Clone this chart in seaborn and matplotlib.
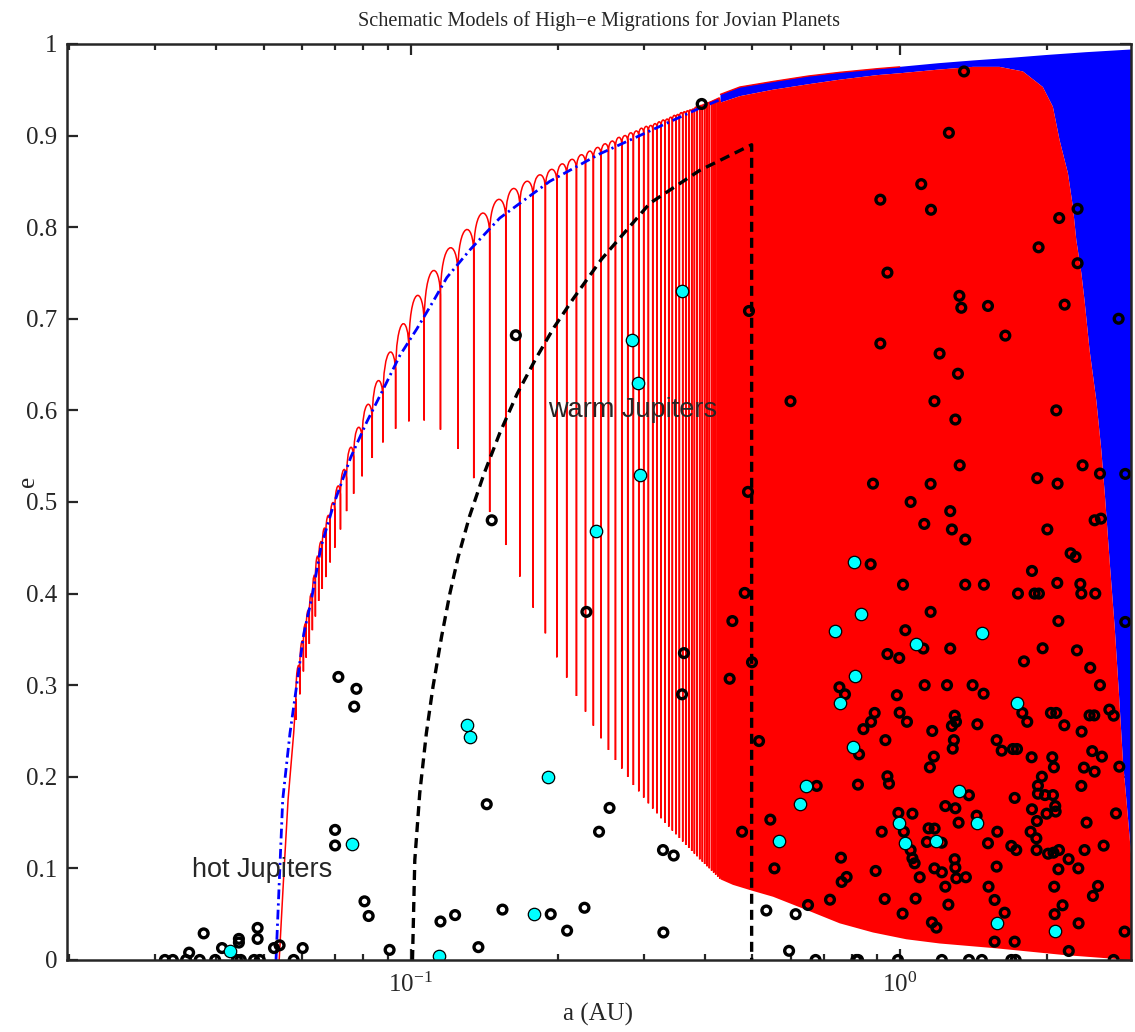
import numpy as np
import matplotlib
matplotlib.use('Agg')
import matplotlib.pyplot as plt
from matplotlib.path import Path
from matplotlib.patches import PathPatch
import pandas as pd
import seaborn as sns

# ---- model tracks ----
lead_a = [0.0538, 0.0549, 0.0561, 0.0576]
lead_e = [0.0, 0.087, 0.175, 0.2475]

spike_a = [0.0582, 0.0593, 0.0603, 0.0611, 0.0620, 0.0629, 0.0638, 0.0648, 0.0659, 0.0670,
           0.0684, 0.0699, 0.0718, 0.0739, 0.0764, 0.0795, 0.0834, 0.0877, 0.0931, 0.0991,
           0.1065, 0.1150, 0.1248, 0.1345, 0.1450, 0.1564,
           0.1671, 0.1779, 0.1885, 0.1989, 0.2084, 0.2182, 0.2277, 0.2363, 0.2450, 0.2537,
           0.2622, 0.2701, 0.2778, 0.2853, 0.2926, 0.2995, 0.3062, 0.3125, 0.3189, 0.3250,
           0.3312, 0.3370, 0.3428, 0.3487, 0.3543, 0.3599, 0.3651, 0.3703, 0.3755, 0.3803,
           0.3851, 0.3899, 0.3948, 0.3991, 0.4035, 0.4080, 0.4124, 0.4164, 0.4204, 0.4245, 0.4285]
spike_top = [0.285, 0.315, 0.342, 0.360, 0.375, 0.392, 0.412, 0.432, 0.448, 0.462,
             0.475, 0.488, 0.505, 0.522, 0.545, 0.565, 0.588, 0.610, 0.638, 0.665,
             0.692, 0.722, 0.748, 0.770, 0.790, 0.808,
             0.822, 0.832, 0.841, 0.849, 0.856, 0.862, 0.868, 0.873, 0.878, 0.882,
             0.886, 0.890, 0.893, 0.896, 0.899, 0.902, 0.904, 0.906, 0.908, 0.910,
             0.912, 0.914, 0.916, 0.918, 0.919, 0.921, 0.922, 0.924, 0.925, 0.926,
             0.928, 0.929, 0.930, 0.931, 0.932, 0.933, 0.934, 0.935, 0.936, 0.937, 0.938]
spike_low = [0.262, 0.290, 0.315, 0.330, 0.345, 0.360, 0.375, 0.392, 0.405, 0.418,
             0.434, 0.450, 0.470, 0.490, 0.509, 0.528, 0.548, 0.565, 0.580, 0.588,
             0.589, 0.579, 0.558, 0.526, 0.489, 0.453,
             0.4185, 0.3847, 0.3566, 0.3304, 0.3082, 0.2882, 0.2711, 0.2558, 0.2420, 0.2293,
             0.2183, 0.2089, 0.1998, 0.1910, 0.1841, 0.1772, 0.1710, 0.1652, 0.1601, 0.1547,
             0.1499, 0.1455, 0.1412, 0.1372, 0.1332, 0.1292, 0.1255, 0.1223, 0.1190, 0.1161,
             0.1132, 0.1099, 0.1073, 0.1048, 0.1023, 0.1001, 0.0975, 0.0953, 0.0931, 0.0909, 0.0888]
arch_peak = [0.320, 0.347, 0.366, 0.381, 0.399, 0.419, 0.440, 0.456, 0.471, 0.485,
             0.499, 0.517, 0.535, 0.559, 0.581, 0.606, 0.632, 0.663, 0.694, 0.725,
             0.752, 0.777, 0.797, 0.815, 0.830, 0.842,
             0.850, 0.857, 0.863, 0.869, 0.874, 0.879, 0.883, 0.887, 0.891, 0.894,
             0.898, 0.900, 0.903, 0.905, 0.908, 0.910, 0.911, 0.913, 0.915, 0.917,
             0.918, 0.920, 0.922, 0.923, 0.925, 0.926, 0.927, 0.928, 0.929, 0.931,
             0.932, 0.933, 0.934, 0.935, 0.936, 0.937, 0.938, 0.939, 0.940, 0.941]

# dense part of the red track (outline) and the outer blue envelope
red_top_a = [0.43, 0.471, 0.55, 0.65, 0.754, 0.9, 1.0, 1.2, 1.412, 1.6, 1.787, 1.963, 2.058,
             2.124, 2.209, 2.262, 2.298, 2.353, 2.389, 2.446, 2.525, 2.585, 2.634, 2.688,
             2.753, 2.809, 2.862, 2.93, 2.98]
red_top_e = [0.936, 0.943, 0.950, 0.956, 0.961, 0.966, 0.968, 0.972, 0.975, 0.975, 0.970, 0.953, 0.9315,
             0.895, 0.859, 0.822, 0.786, 0.750, 0.720, 0.666, 0.611, 0.557, 0.502, 0.436,
             0.364, 0.291, 0.218, 0.156, 0.11]
red_low_a = [2.98, 2.95, 2.158, 1.577, 1.207, 1.032, 0.882, 0.754, 0.645, 0.551, 0.50, 0.456, 0.43]
red_low_e = [0.0, 0.0, 0.0055, 0.0127, 0.018, 0.0226, 0.030, 0.040, 0.0546, 0.069, 0.0755, 0.082, 0.088]
env_a = [0.43, 0.471, 0.55, 0.65, 0.754, 0.9, 1.0, 1.2, 1.412, 1.7, 2.0, 2.4, 2.98]
env_e = [0.945, 0.953, 0.959, 0.965, 0.969, 0.973, 0.975, 0.979, 0.982, 0.985, 0.988, 0.991, 0.994]

blue_a = [0.0530, 0.0547, 0.0566, 0.0585, 0.0604, 0.0627, 0.0655, 0.0696, 0.0754, 0.0813,
          0.0881, 0.0950, 0.1029, 0.1114, 0.1185, 0.1320, 0.1521, 0.1924, 0.2435, 0.3082,
          0.3899, 0.4709]
blue_e = [0.0, 0.175, 0.2475, 0.302, 0.356, 0.395, 0.451, 0.498, 0.549, 0.5875,
          0.6245, 0.66, 0.689, 0.72, 0.745, 0.775, 0.81, 0.85, 0.88, 0.905,
          0.93, 0.948]

dash_a = [0.1008, 0.1019, 0.1043, 0.1076, 0.1110, 0.1156, 0.1202, 0.1250, 0.1320, 0.1410,
          0.1520, 0.1650, 0.1800, 0.1960, 0.2150, 0.2455, 0.3082, 0.3900, 0.4980, 0.4980]
dash_e = [0.0, 0.109, 0.182, 0.2475, 0.298, 0.353, 0.400, 0.440, 0.485, 0.530,
          0.575, 0.618, 0.656, 0.690, 0.722, 0.765, 0.826, 0.862, 0.890, 0.0]

# ---- observed planets ----
black_a = [0.0700, 0.0700, 0.0804, 0.0820, 0.0905, 0.0377, 0.0352, 0.0411, 0.0445, 0.0445,
           0.0486, 0.0486, 0.0525, 0.0539, 0.0601, 0.0314, 0.0326, 0.0347, 0.0370, 0.0398,
           0.0441, 0.0449, 0.0478, 0.0491, 0.0576, 0.0711, 0.0774, 0.0766,
           0.143, 0.255, 0.2427, 0.328, 0.345, 0.115, 0.1232, 0.154, 0.1933, 0.2266,
           0.2088, 0.1375, 0.3286, 0.2287, 0.362, 0.3588, 0.482, 0.4548, 0.4988, 0.449,
           0.476, 0.5157, 0.164, 0.1464, 0.4918, 0.4895, 0.3936,
           1.354, 1.261, 1.107, 0.913, 1.159, 2.312, 2.12, 1.924, 2.312, 0.944,
           1.325, 1.337, 1.516, 2.175,
           2.805, 1.645, 1.316, 1.300, 2.091, 1.327, 2.367, 2.569, 2.894, 1.912,
           2.104, 1.269, 1.279, 1.362, 2.005, 2.505, 2.581, 2.237, 2.290, 1.865,
           0.913, 1.207, 0.598, 1.178, 0.882, 1.157, 1.053, 1.123, 0.8724,
           1.016, 1.157, 1.027, 1.118, 0.944, 0.998, 1.125, 0.753, 0.773, 0.987,
           0.889, 1.0, 0.874, 1.035, 0.843, 1.166, 0.935, 0.826, 1.175,
           1.362, 1.487, 2.101, 2.342, 2.353, 2.513, 1.746, 1.888, 1.927, 2.894,
           2.112, 1.269, 1.961, 2.305, 1.796, 2.454, 1.25, 1.41, 1.485, 2.569,
           1.782, 1.824, 2.039, 2.091, 2.446, 2.501, 2.685, 2.740, 1.296, 1.304,
           1.279, 1.442, 2.172, 2.356, 1.291, 1.579, 1.284, 1.617, 1.705, 1.738,
           1.862, 2.052, 2.477, 2.593,
           1.153, 0.6766, 0.8217, 0.944, 0.951, 0.5438, 0.994, 1.062, 1.020, 0.919,
           1.146, 1.179, 1.137, 1.053, 1.062, 1.073, 0.7585, 0.5544, 0.893, 0.779,
           0.761, 1.099, 1.178, 0.7203, 0.6495, 0.932, 1.078, 1.014, 1.164, 1.189,
           0.5337, 0.6127, 0.594, 0.673, 0.8153, 0.822, 0.992,
           1.386, 2.068, 2.382, 2.505, 2.814, 1.954, 1.918, 1.918, 1.983, 2.059,
           2.353, 1.719, 1.240, 1.300, 1.437, 1.320, 1.865, 1.998, 2.081, 2.085,
           2.770, 2.412, 1.909, 1.584, 1.219, 1.853, 1.904, 1.516, 1.692, 1.732,
           1.906, 2.012, 2.064, 2.118, 2.614, 2.389, 2.216, 2.320, 2.112, 1.296,
           1.300, 1.306, 1.366, 1.220, 1.579, 1.240, 1.520, 2.071, 2.545, 2.485,
           1.564, 1.258, 1.640, 2.154, 2.075, 2.323, 2.885, 1.564, 1.719, 2.218,
           1.220, 1.386, 1.473, 1.692, 1.727, 2.740]
black_e = [0.142, 0.125, 0.064, 0.048, 0.011, 0.029, 0.008, 0.013, 0.023, 0.019,
           0.035, 0.023, 0.013, 0.016, 0.013, 0.0, 0.0, 0.0, 0.0, 0.0,
           0.0, 0.0, 0.0, 0.0, 0.0, 0.309, 0.296, 0.2766,
           0.170, 0.166, 0.140, 0.120, 0.114, 0.042, 0.049, 0.055, 0.050, 0.057,
           0.032, 0.014, 0.030, 0.380, 0.335, 0.290, 0.4007, 0.370, 0.325, 0.307,
           0.140, 0.239, 0.682, 0.480, 0.7085, 0.511, 0.9345,
           0.970, 0.903, 0.847, 0.830, 0.819, 0.820, 0.810, 0.778, 0.7606, 0.7504,
           0.725, 0.712, 0.714, 0.7154,
           0.700, 0.6816, 0.640, 0.590, 0.600, 0.540, 0.540, 0.531, 0.5306, 0.526,
           0.520, 0.490, 0.470, 0.459, 0.470, 0.480, 0.4818, 0.444, 0.440, 0.4247,
           0.673, 0.662, 0.610, 0.610, 0.520, 0.5197, 0.500, 0.476, 0.432,
           0.4097, 0.380, 0.360, 0.340, 0.334, 0.3297, 0.300, 0.2977, 0.290, 0.289,
           0.2697, 0.270, 0.260, 0.260, 0.252, 0.250, 0.240, 0.2245, 0.222,
           0.4097, 0.4097, 0.4116, 0.4105, 0.400, 0.400, 0.400, 0.400, 0.400, 0.369,
           0.370, 0.340, 0.3403, 0.338, 0.326, 0.319, 0.300, 0.300, 0.2907, 0.300,
           0.2697, 0.260, 0.2697, 0.2697, 0.267, 0.267, 0.2733, 0.2667, 0.2667, 0.260,
           0.2555, 0.2573, 0.2562, 0.2493, 0.240, 0.240, 0.2307, 0.2285, 0.2303, 0.2303,
           0.2213, 0.2213, 0.228, 0.222,
           0.2103, 0.190, 0.1914, 0.2005, 0.1925, 0.1532, 0.1605, 0.1597, 0.140, 0.140,
           0.1437, 0.1434, 0.1288, 0.120, 0.111, 0.1055, 0.1117, 0.100, 0.0972, 0.0906,
           0.0852, 0.0903, 0.100, 0.0658, 0.060, 0.0666, 0.067, 0.0506, 0.041, 0.0353,
           0.054, 0.050, 0.010, 0.0, 0.0, 0.0, 0.0,
           0.1798, 0.2103, 0.210, 0.2056, 0.211, 0.2001, 0.1903, 0.1815, 0.180, 0.180,
           0.190, 0.1769, 0.168, 0.1656, 0.1575, 0.1499, 0.1645, 0.1597, 0.168, 0.162,
           0.160, 0.150, 0.1517, 0.140, 0.128, 0.140, 0.1328, 0.1274, 0.1245, 0.120,
           0.120, 0.116, 0.1171, 0.120, 0.1248, 0.120, 0.110, 0.100, 0.099, 0.110,
           0.1008, 0.0892, 0.0903, 0.0957, 0.1019, 0.080, 0.080, 0.080, 0.0808, 0.0699,
           0.0655, 0.0604, 0.0516, 0.0597, 0.050, 0.040, 0.031, 0.020, 0.020, 0.0098,
           0.0, 0.0, 0.0, 0.0, 0.0, 0.0]

cyan_a = [0.0427, 0.0757, 0.1143, 0.1303, 0.1322, 0.1788, 0.1904, 0.2397, 0.284, 0.2917,
          0.2944, 0.3594, 0.5675, 0.6244, 0.6447, 0.739, 0.755, 0.804, 0.807, 0.809,
          0.834, 0.9986, 1.027, 1.078, 1.185, 1.325, 1.437, 1.476, 1.581, 1.738, 2.079]
cyan_e = [0.010, 0.127, 0.004, 0.256, 0.2435, 0.050, 0.200, 0.468, 0.677, 0.630,
          0.529, 0.730, 0.130, 0.170, 0.190, 0.359, 0.280, 0.233, 0.435, 0.310,
          0.3774, 0.150, 0.1274, 0.3454, 0.130, 0.184, 0.150, 0.357, 0.040, 0.280, 0.032]

black_df = pd.DataFrame({'a': black_a, 'e': black_e})
cyan_df = pd.DataFrame({'a': cyan_a, 'e': cyan_e})

sns.set_style('ticks')
plt.rcParams['font.family'] = ['Liberation Serif', 'DejaVu Serif']
plt.rcParams['mathtext.fontset'] = 'stix'

fig = plt.figure(figsize=(11.35, 10.32), dpi=100)
ax = fig.add_axes([0.059, 0.0698, 0.9379, 0.8876])
ax.set_xscale('log')

# blue band / region behind the red one
ax.fill(env_a + red_top_a[::-1], env_e + red_top_e[::-1], color='blue', lw=0, zorder=1)
# dense red part of the migration track
ax.fill(red_top_a + red_low_a, red_top_e + red_low_e, color='red', lw=0, zorder=2)
ax.plot(env_a[:7], env_e[:7], color='red', lw=1.0, zorder=2)

# sparse red track: spikes with arches between them
verts = list(zip(lead_a, lead_e))
codes = [Path.MOVETO] + [Path.LINETO] * (len(lead_a) - 1)
for i in range(len(spike_a)):
    verts += [(spike_a[i], spike_top[i]), (spike_a[i], spike_low[i]), (spike_a[i], spike_top[i])]
    codes += [Path.LINETO] * 3
    if i < len(spike_a) - 1:
        c = (arch_peak[i] - (spike_top[i] + spike_top[i + 1]) / 8) / 0.75
        verts += [(spike_a[i], c), (spike_a[i + 1], c), (spike_a[i + 1], spike_top[i + 1])]
        codes += [Path.CURVE4] * 3
ax.add_patch(PathPatch(Path(verts, codes), fill=False, edgecolor='red', lw=1.1, zorder=3))

ax.plot(blue_a, blue_e, color='blue', lw=2.0, ls=(0, (3.5, 1.5, 0.8, 1.5)), zorder=4)
ax.plot(dash_a, dash_e, color='black', lw=2.4, ls=(0, (3.0, 1.8)), zorder=4)

sns.scatterplot(data=black_df, x='a', y='e', ax=ax, marker='o', s=40,
                facecolor='none', edgecolor='black', linewidth=2.4, zorder=5, legend=False)
sns.scatterplot(data=cyan_df, x='a', y='e', ax=ax, marker='o', s=80,
                color='cyan', edgecolor='black', linewidth=0.9, zorder=6, legend=False)

ax.text(0.0356, 0.098, 'hot Jupiters', fontsize=19.5, family='Liberation Sans', va='center', zorder=7)
ax.text(0.1906, 0.600, 'warm Jupiters', fontsize=19.5, family='Liberation Sans', va='center', zorder=7)

ax.set_xlim(0.0198, 2.98)
ax.set_ylim(0, 1)
ax.set_yticks(np.arange(0, 1.01, 0.1))
ax.set_yticklabels(['0', '0.1', '0.2', '0.3', '0.4', '0.5', '0.6', '0.7', '0.8', '0.9', '1'])
ax.tick_params(which='both', direction='in', top=True, right=True, labelsize=18, width=1.6)
ax.tick_params(axis='y', pad=7)
ax.tick_params(axis='x', pad=9)
ax.tick_params(which='major', length=8)
ax.tick_params(which='minor', length=4.5)
for sp in ax.spines.values():
    sp.set_linewidth(1.8)
    sp.set_zorder(8)
ax.set_xlabel('a (AU)', fontsize=18)
ax.set_ylabel('e', fontsize=18)
ax.xaxis.set_label_coords(0.499, -0.047)
ax.yaxis.set_label_coords(-0.026, 0.522)
ax.set_title('Schematic Models of High\u2212e Migrations for Jovian Planets', fontsize=14.6, pad=13)

fig.savefig('out.png', dpi=100)
